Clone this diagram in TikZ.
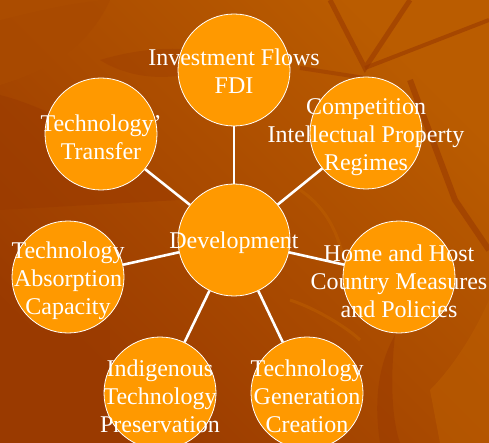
\documentclass[tikz,border=0pt]{standalone}
\usepackage{fontspec}
\setmainfont{Liberation Serif}
\usepackage{tikz}
\usetikzlibrary{calc}

\definecolor{bgmid}{HTML}{A94A00}
\definecolor{bglight}{HTML}{BA5C00}
\definecolor{bgdark}{HTML}{9A3A00}
\definecolor{bubble}{HTML}{FF9900}

\tikzset{
  bub/.style={circle, fill=bubble, draw=white, line width=0.8pt, minimum size=112pt, inner sep=0pt},
  lbl/.style={text=white, align=center, font=\fontsize{24}{28}\selectfont},
  spoke/.style={white, line width=2.6pt}
}

\begin{document}
\begin{tikzpicture}[x=1pt,y=-1pt]
\useasboundingbox (0,0) rectangle (489,443);
% background and leaves
\shade[top color=bglight, bottom color=bgdark, shading angle=-45] (0,0) rectangle (489,443);
\fill[bglight, opacity=.7] (0,20) .. controls (60,5) and (90,0) .. (110,0) -- (0,0) -- cycle;
\fill[bgmid, opacity=.8] (0,85) .. controls (50,70) and (90,45) .. (110,0) -- (0,0) -- cycle;
\fill[bgdark, opacity=.35] (100,60) .. controls (150,45) and (200,45) .. (230,60) .. controls (190,80) and (140,85) .. (100,60) -- cycle;
\fill[bgdark, opacity=.5] (0,95) .. controls (60,110) and (140,160) .. (180,200) -- (0,210) -- cycle;
\draw[bgdark, opacity=.6, line width=5pt] (330,0) -- (365,68) -- (410,0);
\draw[bgdark, opacity=.6, line width=4pt] (365,68) -- (489,20);
\draw[bgdark, opacity=.5, line width=4pt] (300,68) -- (365,78);
\draw[bgdark, opacity=.6, line width=6pt] (410,80) -- (455,200) -- (489,250);
\fill[bgdark, opacity=.5] (0,330) rectangle (110,443);
\fill[bglight, opacity=.6] (430,390) .. controls (460,360) and (480,320) .. (489,300) -- (489,443) -- (440,443) -- cycle;
\fill[bgdark, opacity=.5] (395,335) .. controls (390,380) and (392,420) .. (400,443) -- (380,443) .. controls (375,410) and (375,370) .. (395,335) -- cycle;
\draw[bglight, opacity=.6, line width=3pt] (290,300) .. controls (320,310) and (350,330) .. (360,340);
\draw[bglight, opacity=.6, line width=3pt] (300,190) .. controls (330,210) and (340,240) .. (345,265);

% bubbles
\node[bub] (dev) at (234,240) {};
\node[bub] (fdi) at (234,70) {};
\node[bub] (comp) at (366,133) {};
\node[bub] (host) at (399,277) {};
\node[bub] (gen) at (307,393) {};
\node[bub] (indig) at (160,393) {};
\node[bub] (absorb) at (68,277) {};
\node[bub] (transf) at (101,134) {};

% spokes
\foreach \b in {fdi,comp,host,gen,indig,absorb,transf}
  \draw[spoke] (dev) -- (\b);

% labels
\node[lbl] (dev-t) at (234,243) {Development};
\node[lbl] (fdi-t) at (234,71) {Investment Flows\\FDI};
\node[lbl] (comp-t) at (366,137) {Competition\\Intellectual Property\\Regimes};
\node[lbl] (host-t) at (399,281) {Home and Host\\Country Measures\\and Policies};
\node[lbl] (gen-t) at (307,396) {Technology\\Generation\\Creation};
\node[lbl] (indig-t) at (160,396) {Indigenous\\Technology\\Preservation};
\node[lbl] (absorb-t) at (68,281) {Technology\\Absorption\\Capacity};
\node[lbl] (transf-t) at (101,137) {Technology’\\Transfer};
\end{tikzpicture}
\end{document}
